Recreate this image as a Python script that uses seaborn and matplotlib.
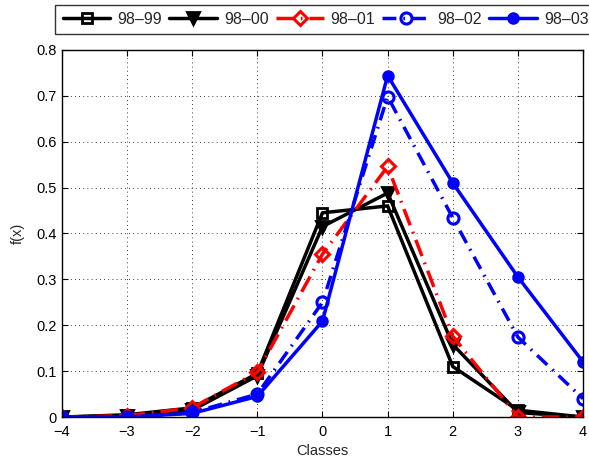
import matplotlib
matplotlib.use("Agg")
import matplotlib.pyplot as plt
import seaborn as sns
import pandas as pd

sns.set_theme(style="white")
plt.rcParams['font.family'] = ['Liberation Sans', 'DejaVu Sans']

classes = [-4, -3, -2, -1, 0, 1, 2, 3, 4]
s_98_99 = [0.0, 0.005, 0.020, 0.095, 0.445, 0.460, 0.110, 0.015, 0.0]
s_98_00 = [0.0, 0.003, 0.015, 0.090, 0.415, 0.488, 0.158, 0.010, 0.0]
s_98_01 = [0.0, 0.003, 0.020, 0.098, 0.355, 0.546, 0.176, 0.0, 0.0]
s_98_02 = [0.0, 0.0, 0.010, 0.050, 0.250, 0.698, 0.434, 0.174, 0.040]
s_98_03 = [0.0, 0.0, 0.008, 0.045, 0.209, 0.744, 0.510, 0.305, 0.120]
labels = ["98\u201399", "98\u201300", "98\u201301", "98\u201302", "98\u201303"]
series = [s_98_99, s_98_00, s_98_01, s_98_02, s_98_03]

styles = [
    dict(color="black", marker="s", mfc="none", ms=7, mew=2.0, dashes=None),
    dict(color="black", marker="v", mfc="black", ms=8, mew=2.0, dashes=None),
    dict(color="red", marker="D", mfc="none", ms=7, mew=2.2, dashes=(5, 2.0, 0.5, 2.0)),
    dict(color="blue", marker="o", mfc="none", ms=8, mew=2.2, dashes=(4, 2.0, 0.5, 2.0)),
    dict(color="blue", marker="o", mfc="blue", ms=7, mew=2.0, dashes=None),
]

fig = plt.figure(figsize=(5.89, 4.66), dpi=100)
ax = fig.add_axes([0.105, 0.105, 0.885, 0.788])

for lab, vals, st in zip(labels, series, styles):
    df = pd.DataFrame({"Classes": classes, "f(x)": vals})
    sns.lineplot(data=df, x="Classes", y="f(x)", ax=ax, color=st["color"],
                 linewidth=2.5, label=lab, legend=False)
    line = ax.lines[-1]
    line.set_marker(st["marker"])
    line.set_markersize(st["ms"])
    line.set_markeredgewidth(st["mew"])
    line.set_markeredgecolor(st["color"])
    line.set_markerfacecolor(st["mfc"])
    if st["dashes"] is not None:
        line.set_dashes(st["dashes"])

ax.set_xlim(-4, 4)
ax.set_ylim(0, 0.8)
ax.set_xticks(classes)
ax.set_xticklabels([str(c).replace("-", "\u2212") for c in classes])
ax.set_yticks([0, 0.1, 0.2, 0.3, 0.4, 0.5, 0.6, 0.7, 0.8])
ax.set_yticklabels(["0", "0.1", "0.2", "0.3", "0.4", "0.5", "0.6", "0.7", "0.8"])
ax.grid(True, color="black", linestyle=(0, (1, 4)), linewidth=0.6)
ax.tick_params(direction="in", length=4, width=0.8, labelsize=10.5,
               top=True, right=True, bottom=True, left=True, colors="black")
ax.tick_params(axis="x", pad=6)
ax.tick_params(axis="y", pad=4)
for sp in ax.spines.values():
    sp.set_color("black")
    sp.set_linewidth(1.0)
ax.set_xlabel("Classes", fontsize=10.5, labelpad=3)
ax.set_ylabel("f(x)", fontsize=10.5, labelpad=8)

leg = fig.legend(handles=ax.lines[:5], labels=labels, loc="upper left",
                 bbox_to_anchor=(0.094, 0.99), ncol=5, fontsize=11.5,
                 frameon=True, fancybox=False, edgecolor="black",
                 handlelength=3.0, handletextpad=0.44, columnspacing=0.44,
                 borderpad=0.45, borderaxespad=0.0)
leg.get_frame().set_linewidth(1.0)

fig.savefig("out.png", dpi=100)
